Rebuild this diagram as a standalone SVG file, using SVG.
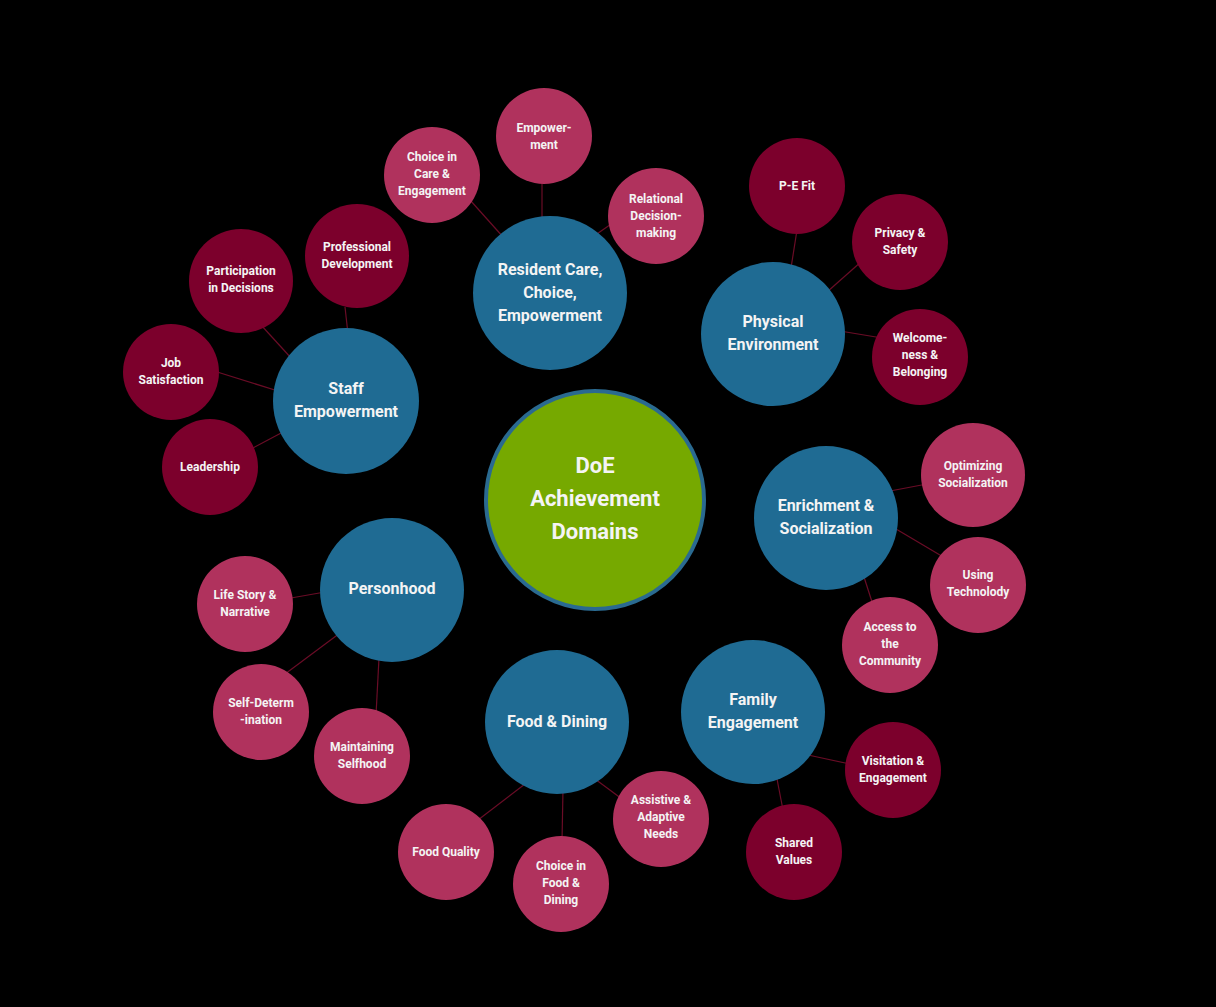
<svg xmlns="http://www.w3.org/2000/svg" width="1216" height="1007" viewBox="0 0 1216 1007">
<style>
.bg{fill:#000}
.blue{fill:#1f6b93}
.pink{fill:#b0325d}
.dark{fill:#7c002c}
.ctr{fill:#76a900;stroke:#2a6a90;stroke-width:4}
text{font-family:Roboto,"Liberation Sans",sans-serif;font-weight:bold;fill:#f4f4f4;text-anchor:middle}
.s{font-size:12px}
.b{font-size:16px}
.c{font-size:22px}
#connectors line{stroke:#6a0c26;stroke-width:1.2}
</style>
<rect class="bg" width="1216" height="1007"/>
<g id="connectors">
<line x1="542" y1="180" x2="542" y2="222"/>
<line x1="470" y1="200" x2="504" y2="238"/>
<line x1="594" y1="236" x2="614" y2="222"/>
<line x1="797" y1="230" x2="791" y2="268"/>
<line x1="862" y1="261" x2="827" y2="292"/>
<line x1="840" y1="331" x2="882" y2="338"/>
<line x1="890" y1="491" x2="927" y2="484"/>
<line x1="896" y1="529" x2="945" y2="558"/>
<line x1="864" y1="577" x2="873" y2="605"/>
<line x1="808" y1="755" x2="850" y2="764"/>
<line x1="777" y1="779" x2="783" y2="810"/>
<line x1="595" y1="779" x2="622" y2="799"/>
<line x1="563" y1="789" x2="562" y2="842"/>
<line x1="525" y1="784" x2="478" y2="820"/>
<line x1="379" y1="658" x2="376" y2="715"/>
<line x1="340" y1="633" x2="285" y2="674"/>
<line x1="325" y1="592" x2="291" y2="598"/>
<line x1="283" y1="432" x2="251" y2="449"/>
<line x1="278" y1="391" x2="214" y2="371"/>
<line x1="292" y1="359" x2="261" y2="325"/>
<line x1="348" y1="334" x2="345" y2="307"/>
</g>
<g id="center"><circle class="ctr" cx="595" cy="500" r="109"/><text class="c" x="595" y="473">DoE<tspan x="595" dy="33">Achievement</tspan><tspan x="595" dy="33">Domains</tspan></text></g>
<g id="resident-care"><circle class="blue" cx="550" cy="293" r="77"/><text class="b" x="550" y="275">Resident Care,<tspan x="550" dy="23">Choice,</tspan><tspan x="550" dy="23">Empowerment</tspan></text></g>
<g id="staff"><circle class="blue" cx="346" cy="401" r="73"/><text class="b" x="346" y="394">Staff<tspan x="346" dy="23">Empowerment</tspan></text></g>
<g id="physical"><circle class="blue" cx="773" cy="334" r="72"/><text class="b" x="773" y="327">Physical<tspan x="773" dy="23">Environment</tspan></text></g>
<g id="enrichment"><circle class="blue" cx="826" cy="518" r="72"/><text class="b" x="826" y="511">Enrichment &amp;<tspan x="826" dy="23">Socialization</tspan></text></g>
<g id="personhood"><circle class="blue" cx="392" cy="590" r="72"/><text class="b" x="392" y="594">Personhood</text></g>
<g id="food"><circle class="blue" cx="557" cy="722" r="72"/><text class="b" x="557" y="727">Food &amp; Dining</text></g>
<g id="family"><circle class="blue" cx="753" cy="712" r="72"/><text class="b" x="753" y="705">Family<tspan x="753" dy="23">Engagement</tspan></text></g>

<g id="empowerment"><circle class="pink" cx="544" cy="136" r="48"/><text class="s" x="544" y="131.5">Empower-<tspan x="544" dy="17">ment</tspan></text></g>
<g id="choice-care"><circle class="pink" cx="432" cy="175" r="48"/><text class="s" x="432" y="161">Choice in<tspan x="432" dy="17">Care &amp;</tspan><tspan x="432" dy="17">Engagement</tspan></text></g>
<g id="relational"><circle class="pink" cx="656" cy="216" r="48"/><text class="s" x="656" y="203">Relational<tspan x="656" dy="17">Decision-</tspan><tspan x="656" dy="17">making</tspan></text></g>
<g id="pe-fit"><circle class="dark" cx="797" cy="186" r="48"/><text class="s" x="797" y="190">P-E Fit</text></g>
<g id="privacy"><circle class="dark" cx="900" cy="242" r="48"/><text class="s" x="900" y="236.5">Privacy &amp;<tspan x="900" dy="17">Safety</tspan></text></g>
<g id="welcome"><circle class="dark" cx="920" cy="357" r="48"/><text class="s" x="920" y="342">Welcome-<tspan x="920" dy="17">ness &amp;</tspan><tspan x="920" dy="17">Belonging</tspan></text></g>
<g id="optimizing"><circle class="pink" cx="973" cy="475" r="52"/><text class="s" x="973" y="469.5">Optimizing<tspan x="973" dy="17">Socialization</tspan></text></g>
<g id="technology"><circle class="pink" cx="978" cy="585" r="48"/><text class="s" x="978" y="578.5">Using<tspan x="978" dy="17">Technolody</tspan></text></g>
<g id="access"><circle class="pink" cx="890" cy="645" r="48"/><text class="s" x="890" y="631">Access to<tspan x="890" dy="17">the</tspan><tspan x="890" dy="17">Community</tspan></text></g>
<g id="visitation"><circle class="dark" cx="893" cy="770" r="48"/><text class="s" x="893" y="764.5">Visitation &amp;<tspan x="893" dy="17">Engagement</tspan></text></g>
<g id="shared"><circle class="dark" cx="794" cy="852" r="48"/><text class="s" x="794" y="846.5">Shared<tspan x="794" dy="17">Values</tspan></text></g>
<g id="assistive"><circle class="pink" cx="661" cy="819" r="48"/><text class="s" x="661" y="804">Assistive &amp;<tspan x="661" dy="17">Adaptive</tspan><tspan x="661" dy="17">Needs</tspan></text></g>
<g id="choice-food"><circle class="pink" cx="561" cy="884" r="48"/><text class="s" x="561" y="870">Choice in<tspan x="561" dy="17">Food &amp;</tspan><tspan x="561" dy="17">Dining</tspan></text></g>
<g id="food-quality"><circle class="pink" cx="446" cy="852" r="48"/><text class="s" x="446" y="855.5">Food Quality</text></g>
<g id="selfhood"><circle class="pink" cx="362" cy="756" r="48"/><text class="s" x="362" y="751">Maintaining<tspan x="362" dy="17">Selfhood</tspan></text></g>
<g id="self-det"><circle class="pink" cx="261" cy="712" r="48"/><text class="s" x="261" y="707">Self-Determ<tspan x="261" dy="17">-ination</tspan></text></g>
<g id="life-story"><circle class="pink" cx="245" cy="604" r="48"/><text class="s" x="245" y="598.5">Life Story &amp;<tspan x="245" dy="17">Narrative</tspan></text></g>
<g id="leadership"><circle class="dark" cx="210" cy="467" r="48"/><text class="s" x="210" y="471">Leadership</text></g>
<g id="job"><circle class="dark" cx="171" cy="372" r="48"/><text class="s" x="171" y="366.5">Job<tspan x="171" dy="17">Satisfaction</tspan></text></g>
<g id="participation"><circle class="dark" cx="241" cy="281" r="52"/><text class="s" x="241" y="274.5">Participation<tspan x="241" dy="17">in Decisions</tspan></text></g>
<g id="prof-dev"><circle class="dark" cx="357" cy="256" r="52"/><text class="s" x="357" y="250.5">Professional<tspan x="357" dy="17">Development</tspan></text></g>
</svg>
